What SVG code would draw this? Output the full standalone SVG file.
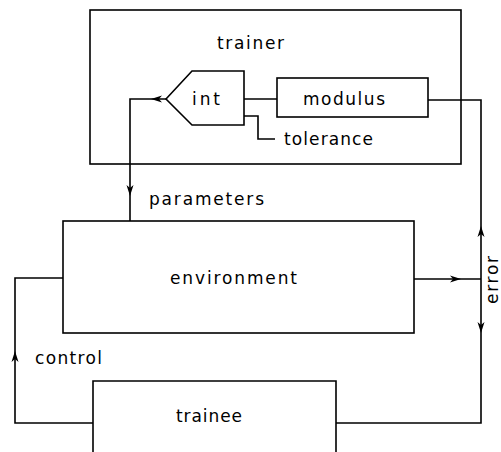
<svg xmlns="http://www.w3.org/2000/svg" xmlns:xlink="http://www.w3.org/1999/xlink" width="501" height="452" viewBox="0 0 501 452">
<style>
.box{fill:none;stroke:#000;stroke-width:1.6}
.ln{fill:none;stroke:#000;stroke-width:1.6}
.t{font-family:"DejaVu Sans","Liberation Sans",sans-serif;font-size:17px;fill:#000}
</style>
<defs>
<path id="arr" d="M0,0 L-11,-3.5 L-8,0 L-11,3.5 Z" fill="#000"/>
</defs>
<rect width="501" height="452" fill="#fff"/>
<g id="trainer">
<rect class="box" x="90" y="10" width="371" height="154"/>
<text class="t" x="217" y="49" textLength="67" lengthAdjust="spacing">trainer</text>
</g>
<g id="int">
<polygon class="box" points="166,99 192,71 244,71 244,125 192,125"/>
<text class="t" x="192" y="105" textLength="28" lengthAdjust="spacing">int</text>
</g>
<g id="modulus">
<rect class="box" x="277" y="78" width="151" height="39"/>
<text class="t" x="303" y="105" textLength="82" lengthAdjust="spacing">modulus</text>
</g>
<g id="tolerance">
<text class="t" x="284" y="145" textLength="89" lengthAdjust="spacing">tolerance</text>
</g>
<g id="environment">
<rect class="box" x="63" y="221" width="351" height="112"/>
<text class="t" x="170" y="284" textLength="127" lengthAdjust="spacing">environment</text>
</g>
<g id="trainee">
<path class="box" d="M93,452 V381 H336 V452"/>
<text class="t" x="176" y="422" textLength="66" lengthAdjust="spacing">trainee</text>
</g>
<g id="connectors">
<path class="ln" d="M244,99 H277"/>
<path class="ln" d="M244,116 H258 V139 H275"/>
<path class="ln" d="M166,99 H130 V221"/>
<use xlink:href="#arr" transform="translate(151,99) rotate(180)"/>
<use xlink:href="#arr" transform="translate(130,196) rotate(90)"/>
<text class="t" x="149" y="205" textLength="115" lengthAdjust="spacing">parameters</text>
<path class="ln" d="M414,279 H481"/>
<use xlink:href="#arr" transform="translate(461,279)"/>
<path class="ln" d="M428,100 H481 V423 H336"/>
<use xlink:href="#arr" transform="translate(481,226) rotate(-90)"/>
<use xlink:href="#arr" transform="translate(481,333) rotate(90)"/>
<text class="t" transform="translate(498,280) rotate(-90)" x="-24" y="0" textLength="48" lengthAdjust="spacing">error</text>
<path class="ln" d="M93,423 H15 V278 H63"/>
<use xlink:href="#arr" transform="translate(15,351) rotate(-90)"/>
<text class="t" x="35" y="364" textLength="67" lengthAdjust="spacing">control</text>
</g>
</svg>
